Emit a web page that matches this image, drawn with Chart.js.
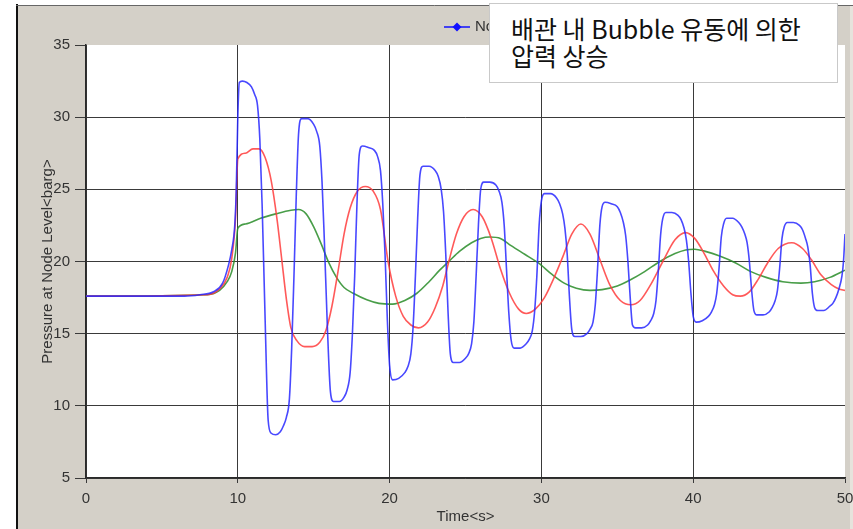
<!DOCTYPE html>
<html>
<head>
<meta charset="utf-8">
<script src="https://cdn.jsdelivr.net/npm/chart.js@4.4.1/dist/chart.umd.min.js"></script>
<style>
  html, body { margin: 0; padding: 0; background: #ffffff; overflow: hidden; }
  #wrap { position: relative; width: 853px; height: 529px; }
  #note {
    position: absolute; left: 489px; top: 3px; width: 349px; height: 80px;
    box-sizing: border-box; background: #ffffff; border: 1px solid #c9c9c9;
    font-family: 'Noto Sans CJK KR', 'Noto Sans', sans-serif; font-size: 25px;
    line-height: 27px; color: #111; padding: 11px 0 0 21px; white-space: nowrap;
  }
</style>
</head>
<body>
<div id="wrap">
  <canvas id="c" width="853" height="529"></canvas>
  <div id="note">배관 내 Bubble 유동에 의한<br>압력 상승</div>
</div>
<script>
// ---- data (time in s, pressure in barg) ----
const xTicks = [0, 10, 20, 30, 40, 50];
const yTicks = [5, 10, 15, 20, 25, 30, 35];
const xTitle = 'Time<s>';
const yTitle = 'Pressure at Node Level<barg>';
const legendLabel = 'Node Level 1';

const blueT = [0,6.5,7.5,8.4,9.0,9.4,9.6,9.8,9.9,10.0,10.1,10.3,10.6,10.9,11.1,11.3,11.45,11.6,11.8,12.0,12.2,12.5,12.8,13.0,13.2,13.4,13.55,13.7,13.85,14.0,14.2,14.6,15.0,15.2,15.4,15.55,15.7,15.9,16.1,16.3,16.7,17.0,17.2,17.4,17.55,17.7,17.85,18.0,18.2,18.6,19.0,19.2,19.4,19.55,19.7,19.85,20.0,20.2,20.6,21.0,21.2,21.4,21.55,21.7,21.85,22.0,22.2,22.6,23.0,23.2,23.4,23.55,23.7,23.85,24.0,24.2,24.6,25.0,25.2,25.4,25.55,25.7,25.85,26.0,26.2,26.6,27.0,27.2,27.4,27.55,27.7,27.85,28.0,28.2,28.6,29.0,29.2,29.4,29.55,29.7,29.85,30.0,30.2,30.6,31.0,31.2,31.4,31.55,31.7,31.85,32.0,32.2,32.6,33.0,33.2,33.4,33.55,33.7,33.85,34.0,34.2,34.6,35.0,35.2,35.4,35.55,35.7,35.85,36.0,36.2,36.6,37.0,37.2,37.4,37.55,37.7,37.85,38.0,38.2,38.6,39.0,39.2,39.4,39.55,39.7,39.85,40.0,40.2,40.6,41.0,41.2,41.4,41.55,41.7,41.85,42.0,42.2,42.6,43.0,43.2,43.4,43.55,43.7,43.85,44.0,44.2,44.6,45.0,45.2,45.4,45.55,45.7,45.85,46.0,46.2,46.6,47.0,47.2,47.4,47.55,47.7,47.85,48.0,48.2,48.6,49.0,49.2,49.4,49.6,49.8,49.9,50.0];
const blueV = [17.6,17.6,17.7,17.9,18.5,19.8,20.8,22.5,25,30,32.4,32.5,32.4,32.1,31.6,30.8,28.5,24,16,9.0,8.1,8.0,8.2,8.6,9.2,10.5,14,19,24.5,28.8,29.9,29.9,29.5,29.0,28.0,25.5,21.5,15.5,11.0,10.3,10.3,10.6,11.1,12.3,15,19,24,27.4,28.0,27.9,27.7,27.3,26.3,24,20.5,16,12.8,11.8,11.9,12.3,12.7,13.6,15.5,19,23,26.0,26.6,26.6,26.3,25.9,25.0,23.5,20.5,16.5,13.6,13.0,13.0,13.3,13.6,14.3,15.8,19,22.5,25.0,25.5,25.5,25.3,24.9,24.1,22.5,19.5,16.5,14.6,14.0,14.0,14.3,14.6,15.2,16.5,19,22.5,24.2,24.7,24.7,24.4,24.0,23.3,22.3,20.5,17.5,15.3,14.8,14.8,15.0,15.3,15.8,17,19.5,22.5,23.8,24.1,24.0,23.8,23.4,22.7,21.8,20.0,17.5,15.6,15.4,15.4,15.6,15.9,16.4,17.3,19.3,21.8,23.0,23.4,23.4,23.2,22.9,22.3,21.5,20.0,17.8,16.2,15.8,15.9,16.2,16.5,17.0,17.8,19.5,21.7,22.6,23.0,23.0,22.7,22.4,21.9,21.3,20.0,18.0,16.6,16.3,16.3,16.5,16.8,17.3,18.0,19.6,21.6,22.4,22.7,22.7,22.5,22.2,21.6,21.0,19.8,17.8,16.8,16.6,16.6,16.9,17.1,17.5,18.1,19.0,20.0,21.9];

const redT = [0,8.0,8.8,9.3,9.6,9.85,10.0,10.5,11.0,11.4,11.8,12.2,12.6,12.9,13.2,13.5,13.9,14.4,14.9,15.4,15.8,16.2,16.6,17.0,17.4,17.9,18.4,18.9,19.4,19.9,20.4,20.9,21.4,21.9,22.5,23.0,23.5,23.9,24.4,24.9,25.5,26.1,26.7,27.3,27.9,28.5,29.0,29.6,30.2,30.8,31.4,32.0,32.6,33.2,33.9,34.5,35.2,35.9,36.5,37.2,38.0,38.8,39.5,40.1,40.7,41.3,42.0,42.6,43.1,43.7,44.3,44.9,45.6,46.5,47.2,47.8,48.4,49.1,49.6,50.0];
const redV = [17.6,17.7,18.1,18.9,20.2,23,27.1,27.5,27.8,27.8,27.2,25.6,22.8,20.1,17.4,15.4,14.5,14.1,14.1,14.4,15.2,16.9,19.3,21.9,23.7,24.9,25.2,24.9,23.6,20.0,17.6,16.2,15.6,15.4,15.8,16.8,18.3,20.0,21.9,23.1,23.6,23.1,21.6,19.5,17.8,16.7,16.4,16.7,17.5,18.8,20.3,21.9,22.6,21.9,20.0,18.4,17.3,17.0,17.3,18.4,20.0,21.5,22.0,21.6,20.6,19.4,18.3,17.7,17.6,17.9,18.8,19.9,20.9,21.3,20.9,20.1,19.1,18.4,18.1,18.0];

const greenT = [0,8.0,8.8,9.3,9.6,9.85,10.0,10.5,11.5,12.5,13.5,14.0,14.5,15.0,15.5,16.0,16.5,17.0,17.6,18.5,19.3,20.2,21.0,21.8,22.6,23.3,23.9,24.6,25.4,26.0,26.6,27.3,28.0,28.9,29.8,30.7,31.5,32.3,33.2,34.0,35.0,35.9,36.8,37.8,38.8,39.5,40.1,40.8,41.7,42.8,43.8,44.8,45.9,47.1,48.0,49.0,50.0];
const greenV = [17.6,17.7,18.0,18.6,19.3,20.6,22.3,22.6,23.0,23.3,23.55,23.6,23.3,22.4,21.2,19.9,18.9,18.2,17.8,17.35,17.1,17.05,17.3,17.8,18.6,19.4,20.0,20.7,21.3,21.6,21.7,21.6,21.1,20.5,19.9,19.1,18.5,18.15,18.0,18.05,18.3,18.75,19.3,20.0,20.55,20.8,20.85,20.7,20.4,19.9,19.3,18.9,18.6,18.5,18.6,18.9,19.4];

const toPts = (t, v) => t.map((x, i) => ({ x: x, y: v[i] }));

const FONT = "'Liberation Sans Narrow', 'Arial Narrow', 'Liberation Sans', Arial, sans-serif";

// ---- frame / legend drawing ----
const framePlugin = {
  id: 'frame',
  beforeDraw(chart) {
    const ctx = chart.ctx, a = chart.chartArea;
    ctx.save();
    ctx.fillStyle = '#ffffff';
    ctx.fillRect(0, 0, 853, 529);
    ctx.fillStyle = '#d4d0c8';
    ctx.fillRect(17, 5, 836, 524);
    ctx.fillStyle = '#e6e3dc';
    ctx.fillRect(850, 5, 3, 524);
    ctx.strokeStyle = '#111';
    ctx.lineWidth = 2;
    ctx.beginPath(); ctx.moveTo(17, 4); ctx.lineTo(17, 529); ctx.stroke();
    ctx.strokeStyle = '#666';
    ctx.lineWidth = 1;
    ctx.beginPath(); ctx.moveTo(16, 5.5); ctx.lineTo(853, 5.5); ctx.stroke();
    ctx.fillStyle = '#ffffff';
    ctx.fillRect(a.left, a.top, a.right - a.left, a.bottom - a.top);
    ctx.restore();
  },
  afterDraw(chart) {
    const ctx = chart.ctx;
    ctx.save();
    ctx.strokeStyle = '#1010ff';
    ctx.fillStyle = '#1010ff';
    ctx.lineWidth = 1.5;
    ctx.beginPath(); ctx.moveTo(444, 27); ctx.lineTo(470, 27); ctx.stroke();
    ctx.beginPath();
    ctx.moveTo(457, 22.5); ctx.lineTo(461.5, 27); ctx.lineTo(457, 31.5); ctx.lineTo(452.5, 27);
    ctx.closePath(); ctx.fill();
    ctx.fillStyle = '#333';
    ctx.font = "15px " + FONT;
    ctx.textBaseline = 'middle';
    ctx.fillText(legendLabel, 475, 27);
    ctx.restore();
  }
};

Chart.defaults.font.family = FONT;
Chart.defaults.font.size = 15;
Chart.defaults.color = '#333';

const lineDs = (label, t, v, color) => ({
  label: label,
  data: toPts(t, v),
  borderColor: color,
  borderWidth: 1.6,
  pointRadius: 0,
  fill: false,
  cubicInterpolationMode: 'monotone'
});

new Chart(document.getElementById('c'), {
  type: 'line',
  data: {
    datasets: [
      lineDs('Node Level 1', blueT, blueV, 'rgba(40,40,255,0.85)'),
      lineDs('Node Level 2', redT, redV, 'rgba(255,60,60,0.85)'),
      lineDs('Node Level 3', greenT, greenV, 'rgba(40,140,40,0.85)')
    ]
  },
  options: {
    responsive: false,
    animation: false,
    events: [],
    layout: { padding: { left: 0, right: 8, top: 45, bottom: 0 } },
    plugins: { legend: { display: false }, tooltip: { enabled: false } },
    scales: {
      x: {
        type: 'linear', min: 0, max: 50,
        afterBuildTicks: s => { s.ticks = xTicks.map(v => ({ value: v })); },
        afterFit: s => { s.height = 51; s.paddingLeft = 0; s.paddingRight = 0; },
        ticks: { padding: 7, color: '#333', autoSkip: false, maxRotation: 0 },
        grid: {
          color: c => (c.tick && c.tick.value === 50) ? 'rgba(0,0,0,0)' : '#3a3a3a',
          tickColor: '#3a3a3a', tickLength: 5, lineWidth: 1
        },
        border: { color: '#2a2a2a', width: 1.5 },
        title: { display: true, text: xTitle, color: '#333', font: { size: 15 }, padding: { top: 0, bottom: 3 } }
      },
      y: {
        type: 'linear', min: 5, max: 35,
        afterBuildTicks: s => { s.ticks = yTicks.map(v => ({ value: v })); },
        afterFit: s => { s.width = 86; s.paddingTop = 0; s.paddingBottom = 0; },
        ticks: { padding: 5, color: '#333' },
        grid: {
          color: c => (c.tick && c.tick.value === 35) ? 'rgba(0,0,0,0)' : '#3a3a3a',
          tickColor: '#3a3a3a', tickLength: 11, lineWidth: 1
        },
        border: { color: '#2a2a2a', width: 1.5 },
        title: { display: true, text: yTitle, color: '#333', font: { size: 15 }, padding: { top: 39, bottom: 0 } }
      }
    }
  },
  plugins: [framePlugin]
});
</script>
</body>
</html>
